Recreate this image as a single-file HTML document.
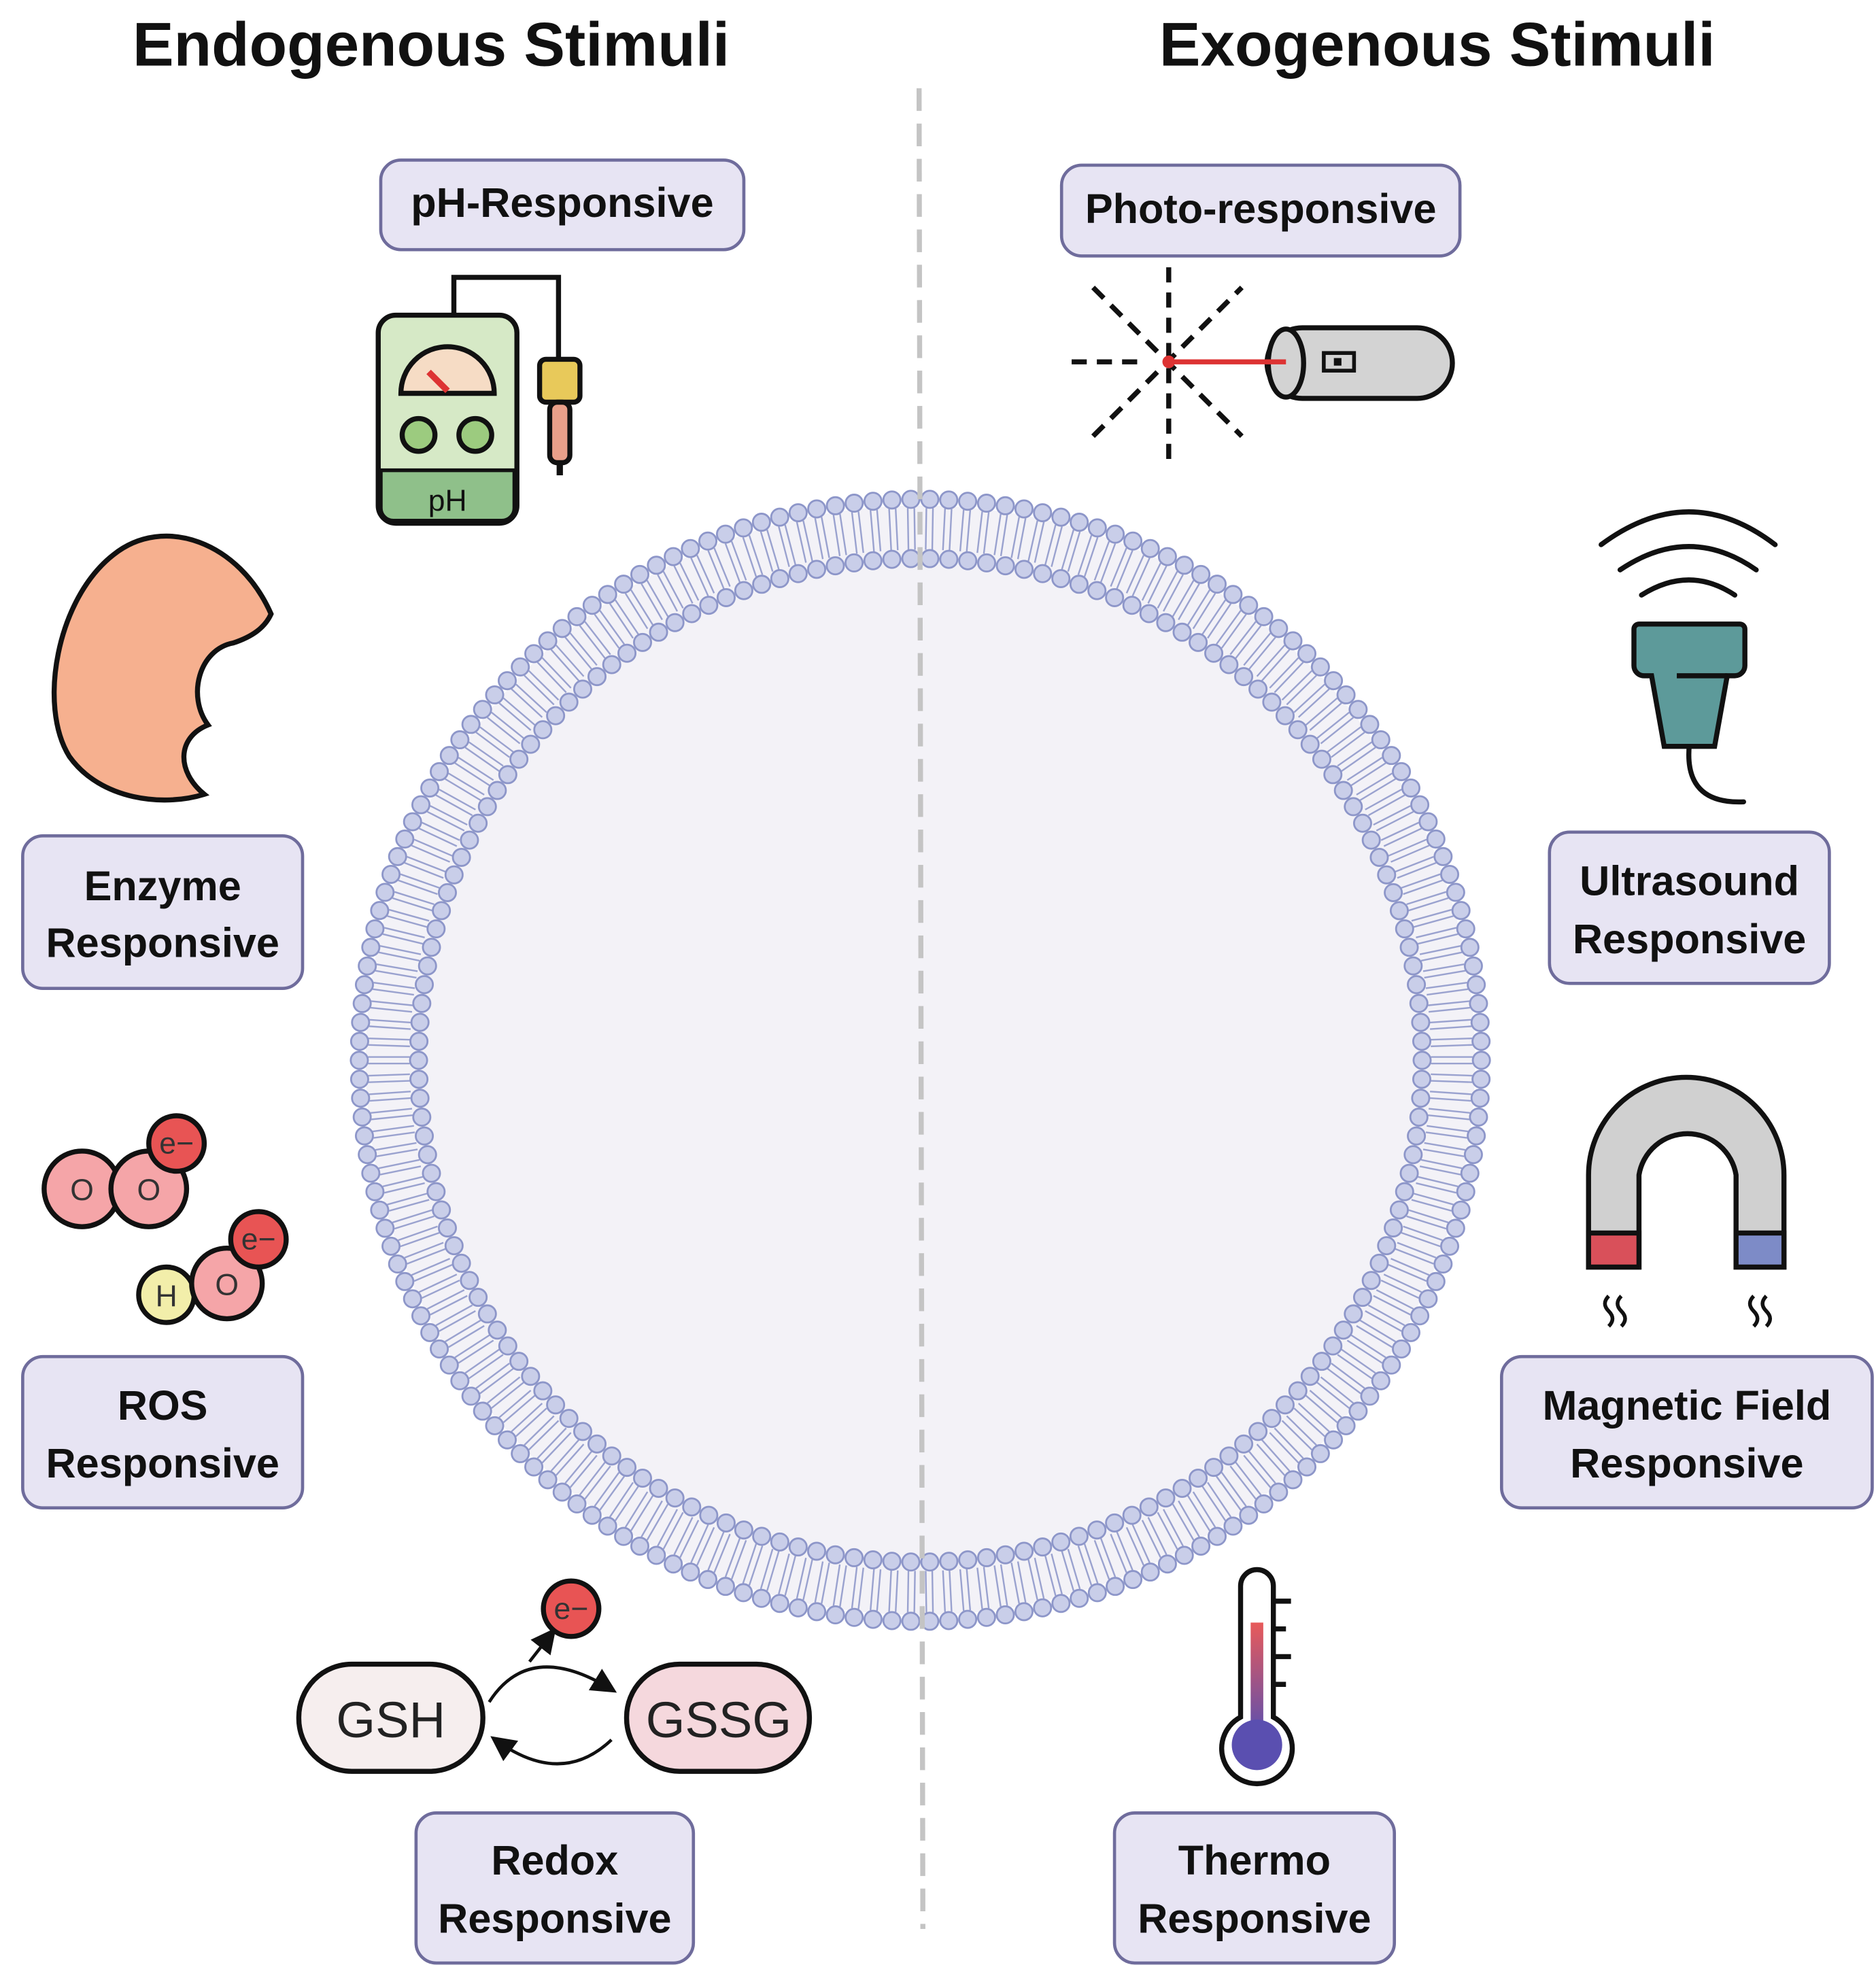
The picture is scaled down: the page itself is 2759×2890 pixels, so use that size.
<!DOCTYPE html>
<html><head><meta charset="utf-8"><style>
html,body{margin:0;padding:0;background:#fff;}
svg{display:block;}
text{font-family:"Liberation Sans",sans-serif;}
.lbl{fill:#e7e4f3;stroke:#6f6c9c;stroke-width:2.5;}
.bt{font-weight:bold;font-size:33px;fill:#111;text-anchor:middle;}
</style></head><body>
<svg id="s" width="2759" height="2890" viewBox="0 0 1488 1558.6" preserveAspectRatio="none" xmlns="http://www.w3.org/2000/svg">
<defs>
<linearGradient id="tg" x1="0" y1="0" x2="0" y2="1"><stop offset="0" stop-color="#e85a5a"/><stop offset="1" stop-color="#5a4fb0"/></linearGradient>
<marker id="ah" markerWidth="8" markerHeight="8" refX="6" refY="4" orient="auto"><path d="M0,0 L8,4 L0,8 Z" fill="#111"/></marker>
</defs>
<text x="342" y="52" font-size="49" font-weight="bold" text-anchor="middle" fill="#111">Endogenous Stimuli</text>
<text x="1140" y="52" font-size="49" font-weight="bold" text-anchor="middle" fill="#111">Exogenous Stimuli</text>
<circle cx="730" cy="841" r="440" fill="#f3f2f7"/>
<g id="lip"></g>
<line x1="729" y1="70" x2="732" y2="1530" stroke="#c4c4c4" stroke-width="4" stroke-dasharray="18 10"/>
<!-- labels -->
<rect class="lbl" x="302" y="127" width="288" height="71" rx="16"/><text class="bt" x="446" y="172">pH-Responsive</text>
<rect class="lbl" x="842" y="131" width="316" height="72" rx="16"/><text class="bt" x="1000" y="177">Photo-responsive</text>
<rect class="lbl" x="18" y="663" width="222" height="121" rx="16"/><text class="bt" x="129" y="714">Enzyme</text><text class="bt" x="129" y="759">Responsive</text>
<rect class="lbl" x="1229" y="660" width="222" height="120" rx="16"/><text class="bt" x="1340" y="710">Ultrasound</text><text class="bt" x="1340" y="756">Responsive</text>
<rect class="lbl" x="18" y="1076" width="222" height="120" rx="16"/><text class="bt" x="129" y="1126">ROS</text><text class="bt" x="129" y="1172">Responsive</text>
<rect class="lbl" x="1191" y="1076" width="294" height="120" rx="16"/><text class="bt" x="1338" y="1126">Magnetic Field</text><text class="bt" x="1338" y="1172">Responsive</text>
<rect class="lbl" x="330" y="1438" width="220" height="119" rx="16"/><text class="bt" x="440" y="1487">Redox</text><text class="bt" x="440" y="1533">Responsive</text>
<rect class="lbl" x="884" y="1438" width="222" height="119" rx="16"/><text class="bt" x="995" y="1487">Thermo</text><text class="bt" x="995" y="1533">Responsive</text>
<!-- pH meter -->
<path d="M360 250 V220 H443 V287" fill="none" stroke="#111" stroke-width="4"/>
<rect x="300" y="250" width="110" height="165" rx="14" fill="#d6e9c6" stroke="#111" stroke-width="4"/>
<path d="M302 373 H408 V403 a10 10 0 0 1 -10 10 H312 a10 10 0 0 1 -10 -10Z" fill="#8fc08a" stroke="#111" stroke-width="3"/>
<text x="355" y="405" font-size="24" text-anchor="middle" fill="#111">pH</text>
<path d="M318 312 A37 37 0 0 1 392 312 Z" fill="#f6dcc5" stroke="#111" stroke-width="4"/>
<line x1="355" y1="310" x2="340" y2="295" stroke="#d33" stroke-width="5"/>
<circle cx="332" cy="345" r="13" fill="#9ccb7f" stroke="#111" stroke-width="4"/>
<circle cx="377" cy="345" r="13" fill="#9ccb7f" stroke="#111" stroke-width="4"/>
<rect x="428" y="285" width="32" height="34" rx="5" fill="#e8c95a" stroke="#111" stroke-width="4"/>
<rect x="436" y="319" width="16" height="48" rx="6" fill="#e9a08a" stroke="#111" stroke-width="4"/>
<line x1="444" y1="367" x2="444" y2="377" stroke="#111" stroke-width="5"/>
<!-- laser -->
<g stroke="#111" stroke-width="4" stroke-dasharray="12 8">
<line x1="927" y1="212" x2="927" y2="365"/><line x1="850" y1="287" x2="905" y2="287"/>
<line x1="867" y1="228" x2="985" y2="346"/><line x1="867" y1="346" x2="985" y2="228"/>
</g>
<rect x="1005" y="260" width="147" height="56" rx="28" fill="#d3d3d3" stroke="#111" stroke-width="4"/>
<ellipse cx="1020" cy="288" rx="14" ry="27" fill="#d3d3d3" stroke="#111" stroke-width="4"/>
<rect x="1050" y="280" width="24" height="14" fill="none" stroke="#111" stroke-width="3"/><rect x="1058" y="284" width="6" height="6" fill="#111"/>
<line x1="927" y1="287" x2="1020" y2="287" stroke="#d33" stroke-width="4"/><circle cx="927" cy="287" r="5" fill="#d33"/>
<!-- ultrasound -->
<g fill="none" stroke="#111" stroke-width="4" stroke-linecap="round">
<path d="M1270 432 Q1340 380 1408 432"/><path d="M1285 452 Q1340 415 1393 452"/><path d="M1302 472 Q1340 448 1376 472"/>
<path d="M1340 590 Q1335 638 1383 636"/>
</g>
<path d="M1300 495 H1380 a4 4 0 0 1 4 4 V528 a8 8 0 0 1 -8 8 H1370 L1360 592 H1320 L1310 536 H1304 a8 8 0 0 1 -8 -8 V499 a4 4 0 0 1 4 -4Z" fill="#5d9a9a" stroke="#111" stroke-width="4"/>
<line x1="1330" y1="536" x2="1370" y2="536" stroke="#111" stroke-width="4"/>
<!-- enzyme -->
<path d="M215 487 C190 430 130 408 90 440 C45 475 30 560 55 600 C80 635 130 640 162 630 C140 612 140 585 165 575 C148 552 158 515 185 510 C200 505 210 498 215 487Z" fill="#f6b08f" stroke="#111" stroke-width="4"/>
<!-- ROS -->
<g stroke="#111" stroke-width="4">
<circle cx="65" cy="943" r="30" fill="#f5a5a8"/><circle cx="118" cy="943" r="30" fill="#f5a5a8"/>
<circle cx="140" cy="907" r="22" fill="#e85454"/>
<circle cx="132" cy="1027" r="22" fill="#f2eeaa"/><circle cx="180" cy="1018" r="28" fill="#f5a5a8"/>
<circle cx="205" cy="983" r="22" fill="#e85454"/>
</g>
<g font-size="24" text-anchor="middle" fill="#333">
<text x="65" y="952">O</text><text x="118" y="952">O</text><text x="140" y="915">e−</text>
<text x="132" y="1036">H</text><text x="180" y="1027">O</text><text x="205" y="991">e−</text>
</g>
<!-- magnet -->
<path d="M1260 1005 V932 A77 77 0 0 1 1415 932 V1005 H1377 V932 A39 39 0 0 0 1300 932 V1005 Z" fill="#d0d0d0" stroke="#111" stroke-width="4"/>
<rect x="1260" y="978" width="40" height="27" fill="#d9505a" stroke="#111" stroke-width="4"/>
<rect x="1377" y="978" width="38" height="27" fill="#7d8bc7" stroke="#111" stroke-width="4"/>
<g fill="none" stroke="#111" stroke-width="3">
<path d="M1276 1028 q-6 6 0 12 q6 6 0 12"/><path d="M1286 1028 q-6 6 0 12 q6 6 0 12"/>
<path d="M1391 1028 q-6 6 0 12 q6 6 0 12"/><path d="M1401 1028 q-6 6 0 12 q6 6 0 12"/>
</g>
<!-- thermometer -->
<path d="M984 1258 a13 13 0 0 1 26 0 V1362 a28 28 0 1 1 -26 0 Z" fill="#fff" stroke="#111" stroke-width="4"/>
<rect x="992" y="1287" width="10" height="90" fill="url(#tg)"/><circle cx="997" cy="1384" r="20" fill="#5a4fb0"/>
<g stroke="#111" stroke-width="4"><line x1="1010" y1="1270" x2="1024" y2="1270"/><line x1="1010" y1="1292" x2="1020" y2="1292"/><line x1="1010" y1="1314" x2="1024" y2="1314"/><line x1="1010" y1="1336" x2="1020" y2="1336"/></g>
<!-- redox -->
<rect x="237" y="1320" width="146" height="85" rx="42" fill="#f6eeee" stroke="#111" stroke-width="4"/>
<rect x="497" y="1320" width="145" height="85" rx="42" fill="#f5d8dd" stroke="#111" stroke-width="4"/>
<text x="310" y="1378" font-size="40" text-anchor="middle" fill="#222">GSH</text>
<text x="570" y="1378" font-size="40" text-anchor="middle" fill="#222">GSSG</text>
<g fill="none" stroke="#111" stroke-width="2.5">
<path d="M388 1350 Q420 1300 485 1340" marker-end="url(#ah)"/>
<path d="M485 1380 Q445 1418 393 1380" marker-end="url(#ah)"/>
<path d="M420 1318 L438 1295" marker-end="url(#ah)"/>
</g>
<circle cx="453" cy="1276" r="22" fill="#e85454" stroke="#111" stroke-width="4"/>
<text x="453" y="1284" font-size="24" text-anchor="middle" fill="#333">e−</text>
</svg>
<script>
(function(){var g=document.getElementById('lip'),cx=730,cy=841,N=186,h='';
for(var i=0;i<N;i++){var a=2*Math.PI*i/N,c=Math.cos(a),s=Math.sin(a),px=-s*2.6,py=c*2.6;
for(var k=-1;k<=1;k+=2){h+='<line x1="'+(cx+c*438+px*k)+'" y1="'+(cy+s*438+py*k)+'" x2="'+(cx+c*405+px*k)+'" y2="'+(cy+s*405+py*k)+'" stroke="#9aa2cf" stroke-width="1.3"/>';}
h+='<circle cx="'+(cx+c*445)+'" cy="'+(cy+s*445)+'" r="6.8" fill="#c9cee9" stroke="#8d96c9" stroke-width="1.5"/>';}
var M=166;for(var i=0;i<M;i++){var a=2*Math.PI*i/M,c=Math.cos(a),s=Math.sin(a);
h+='<circle cx="'+(cx+c*398)+'" cy="'+(cy+s*398)+'" r="6.8" fill="#c9cee9" stroke="#8d96c9" stroke-width="1.5"/>';}
g.innerHTML=h;})();
</script>
</body></html>
